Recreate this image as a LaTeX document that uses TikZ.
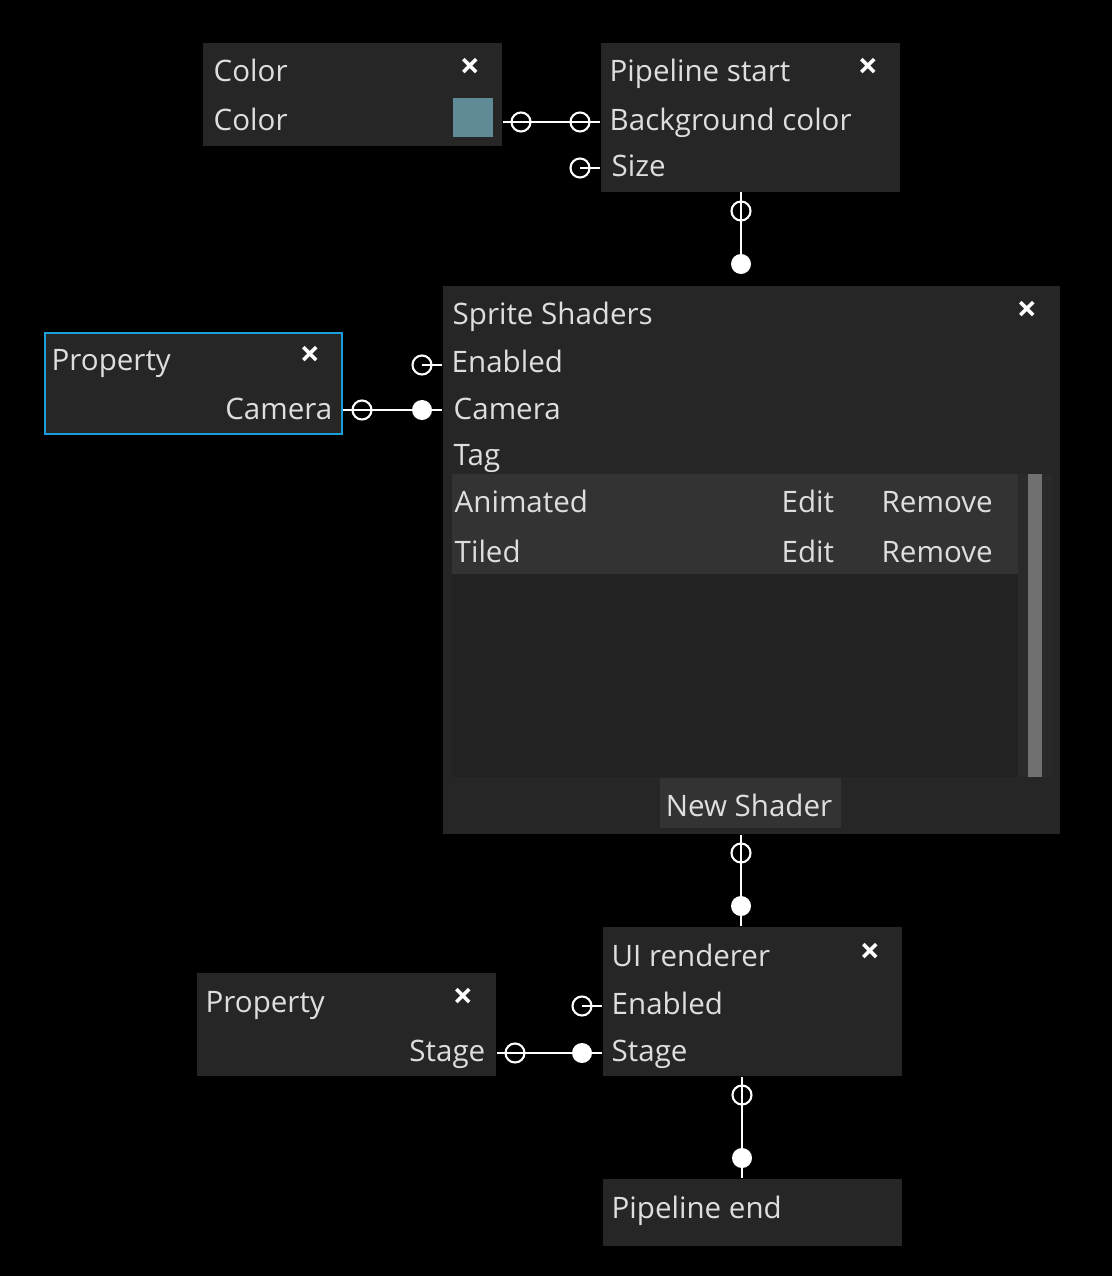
\documentclass[tikz,border=0pt]{standalone}
\usepackage{fontspec}
\setmainfont{Open Sans}
\definecolor{panelbg}{RGB}{38,38,38}
\definecolor{rowbg}{RGB}{51,51,51}
\definecolor{listbg}{RGB}{34,34,34}
\definecolor{trackbg}{RGB}{42,42,42}
\definecolor{thumbgray}{RGB}{112,112,112}
\definecolor{labelgray}{RGB}{222,222,222}
\definecolor{selblue}{RGB}{26,159,219}
\definecolor{swatch}{RGB}{96,138,150}
\tikzset{
  panel/.style={fill=panelbg, inner sep=0pt, anchor=north west},
  lbl/.style={text=labelgray, inner sep=0pt, anchor=base west, font=\fontsize{8.4}{10}\selectfont},
  rlbl/.style={lbl, anchor=base east},
  closer/.style={text=white, inner sep=0pt, font=\fontsize{10}{12}\selectfont\bfseries},
  wire/.style={white, line width=0.6pt},
  sockopen/.style={circle, draw=white, line width=0.6pt, inner sep=0pt, minimum size=0.19cm},
  sockfull/.style={circle, fill=white, inner sep=0pt, minimum size=0.2cm}
}
\begin{document}
\begin{tikzpicture}[x=0.01cm,y=-0.01cm]
  \fill[black] (0,0) rectangle (1112,1276);

  % Color
  \node[panel, minimum width=2.99cm, minimum height=1.03cm] (color) at (202,42) {};
  \node[lbl] (colortitle) at (213,82) {Color};
  \node[closer] (colorx) at (470,68) {×};
  \node[lbl] (colorrow) at (213,130) {Color};
  \node[fill=swatch, inner sep=0pt, minimum width=0.4cm, minimum height=0.39cm] (colorsw) at (473,117.5) {};

  % Pipeline start
  \node[panel, minimum width=2.99cm, minimum height=1.49cm] (pstart) at (600,42) {};
  \node[lbl] (pstarttitle) at (609,82) {Pipeline start};
  \node[closer] (pstartx) at (868,68) {×};
  \node[lbl] (bgcolor) at (609,130) {Background color};
  \node[lbl] (size) at (611,176) {Size};

  % Sprite Shaders
  \node[panel, minimum width=6.17cm, minimum height=5.48cm] (sprite) at (442,285) {};
  \node[lbl] (spritetitle) at (452,324) {Sprite Shaders};
  \node[closer] (spritex) at (1027,311) {×};
  \node[lbl] (enabled) at (451,372) {Enabled};
  \node[lbl] (camera) at (453,419) {Camera};
  \node[lbl] (tag) at (453,465) {Tag};
  \fill[listbg] (452,574) rectangle (1018,777);
  \fill[trackbg] (1018,474) rectangle (1052,777);
  \fill[thumbgray] (1028,474) rectangle (1042,777);
  \fill[rowbg] (452,474) rectangle (1018,574);
  \node[lbl] (animated) at (454,512) {Animated};
  \node[lbl] (animedit) at (781,512) {Edit};
  \node[lbl] (animremove) at (881,512) {Remove};
  \node[lbl] (tiled) at (454,562) {Tiled};
  \node[lbl] (tilededit) at (781,562) {Edit};
  \node[lbl] (tiledremove) at (881,562) {Remove};
  \node[fill=rowbg, inner sep=0pt, minimum width=1.81cm, minimum height=0.5cm] (newshader) at (750.5,803) {};
  \node[lbl, anchor=base] at (749,816) {New Shader};

  % Property (camera)
  \node[panel, draw=selblue, line width=0.6pt, minimum width=2.97cm, minimum height=1.01cm] (propcam) at (44,332) {};
  \node[lbl] (propcamtitle) at (51,370) {Property};
  \node[closer] (propcamx) at (310,356) {×};
  \node[rlbl] (propcamout) at (333,419) {Camera};

  % UI renderer
  \node[panel, minimum width=2.99cm, minimum height=1.49cm] (ui) at (602,926) {};
  \node[lbl] (uititle) at (611,966) {UI renderer};
  \node[closer] (uix) at (870,953) {×};
  \node[lbl] (uienabled) at (611,1014) {Enabled};
  \node[lbl] (uistage) at (611,1061) {Stage};

  % Property (stage)
  \node[panel, minimum width=2.99cm, minimum height=1.03cm] (propstage) at (196,972) {};
  \node[lbl] (propstagetitle) at (205,1012) {Property};
  \node[closer] (propstagex) at (463,998) {×};
  \node[rlbl] (propstageout) at (486,1061) {Stage};

  % Pipeline end
  \node[panel, minimum width=2.99cm, minimum height=0.67cm] (pend) at (602,1178) {};
  \node[lbl] (pendtitle) at (611,1218) {Pipeline end};

  % sockets
  \node[sockopen] (colorout) at (521,122) {};
  \node[sockopen] (bgin) at (580,122) {};
  \node[sockopen] (sizein) at (580,168) {};
  \node[sockopen] (pstartout) at (741,211) {};
  \node[sockfull] (spritein) at (741,264) {};
  \node[sockopen] (enabledin) at (422,365) {};
  \node[sockopen] (camout) at (362,410) {};
  \node[sockfull] (camin) at (422,410) {};
  \node[sockopen] (spriteout) at (741,853) {};
  \node[sockfull] (uiin) at (741,906) {};
  \node[sockopen] (uienin) at (582,1006) {};
  \node[sockopen] (stageout) at (515,1053) {};
  \node[sockfull] (stagein) at (582,1053) {};
  \node[sockopen] (uiout) at (742,1095) {};
  \node[sockfull] (pendin) at (742,1158) {};

  % wires
  \draw[wire] (color.east |- colorout) -- (pstart.west |- bgin);
  \draw[wire] (sizein.center) -- (pstart.west |- sizein);
  \draw[wire] (pstartout |- pstart.south) -- (spritein.center);
  \draw[wire] (enabledin.center) -- (sprite.west |- enabledin);
  \draw[wire] (propcam.east |- camout) -- (sprite.west |- camin);
  \draw[wire] (spriteout |- sprite.south) -- (uiin |- ui.north);
  \draw[wire] (uienin.center) -- (ui.west |- uienin);
  \draw[wire] (propstage.east |- stageout) -- (ui.west |- stagein);
  \draw[wire] (uiout |- ui.south) -- (pendin |- pend.north);
\end{tikzpicture}
\end{document}
